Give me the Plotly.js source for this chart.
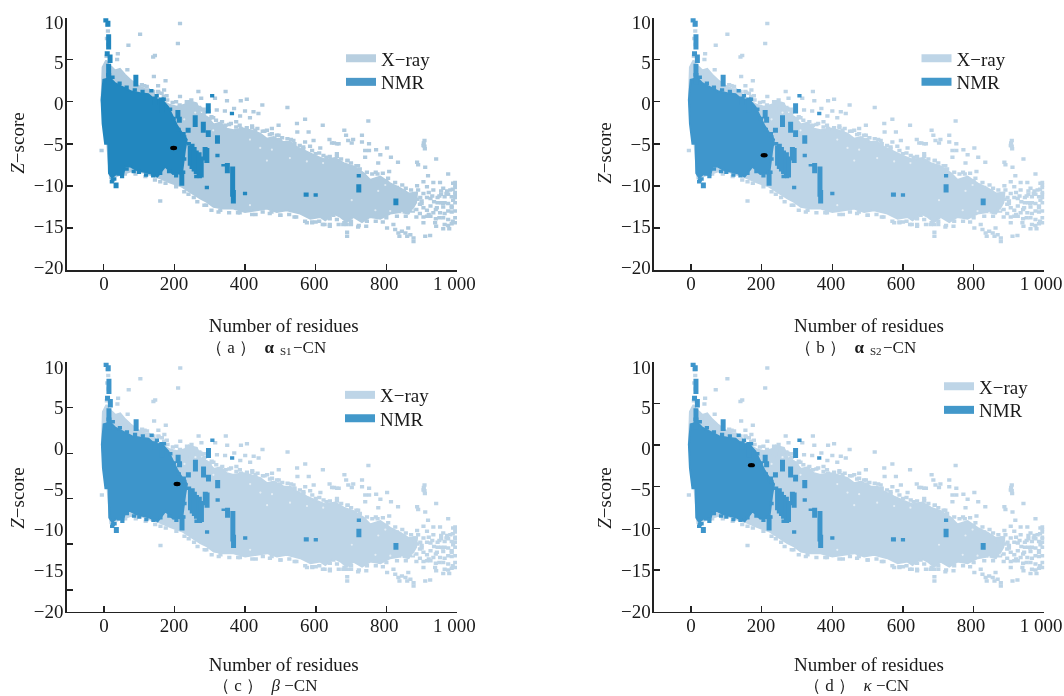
<!DOCTYPE html>
<html>
<head>
<meta charset="utf-8">
<script src="https://cdn.plot.ly/plotly-3.0.1.min.js"></script>
<style>html,body{margin:0;padding:0;background:#fff}#chart{width:1064px;height:696px;filter:blur(0.35px)}</style>
</head>
<body>
<div id="chart"></div>
<script>
// ---------- values ----------
var xTicks = [0, 200, 400, 600, 800, 1000];
var xTickText = ['0', '200', '400', '600', '800', '1 000'];
var zLabelVals = [10, 5, 0, -5, -10, -15, -20];
var zLabelText = ['10', '5', '0', '−5', '−10', '−15', '−20'];
var xTitle = 'Number of residues';
var zTitle = '<i>Z</i>−score';

// X-ray dense cloud: outline
var xrayBodyX = [-6,-3,7,14,23,32,46,60,75,93,112,131,150,169,188,207,226,245,263,273,292,311,330,348,367,396,415,443,462,481,509,528,547,575,603,627,655,679,707,736,754,783,811,840,863,887,884,877,863,840,811,783,754,731,707,688,670,651,627,613,585,556,518,490,462,433,400,367,339,311,292,273,249,221,188,160,131,103,75,46,18,10,-6];
var xrayBodyY = [0.2,4.1,4.9,4.4,4.1,3.7,3.9,3.2,2.6,2.0,1.6,1.2,0.6,0,-0.4,-0.6,-0.4,0,-0.2,-1.4,-1.8,-2.7,-2.5,-3.2,-3.4,-3.2,-3.4,-3.8,-4.4,-4.2,-4.8,-4.8,-5.4,-6,-6.5,-6.9,-6.7,-7.3,-7.7,-8.5,-9.3,-8.9,-9.7,-10.3,-10.9,-10.8,-12,-12.5,-13.3,-13.1,-13.3,-13.9,-13.7,-14.3,-13.7,-14.3,-13.7,-13.3,-14.1,-13.7,-13.9,-13.3,-12.9,-13.1,-12.7,-12.9,-13.1,-12.7,-12.7,-12.5,-11.9,-11.5,-10.9,-10.1,-9.6,-9.1,-8.7,-8.3,-8.3,-8.7,-9.1,-5,0.2];
// X-ray loose points
var xrayPtsX = [216,103,70,210,40,145,140,38,67,142,175,154,122,108,171,140,154,268,216,276,315,244,178,164,225,273,320,345,405,349,388,449,520,369,343,400,424,438,570,386,414,375,495,547,620,580,548,476,462,476,429,388,499,537,570,594,639,652,665,584,613,749,681,686,731,692,706,702,731,646,660,751,751,740,771,802,783,813,740,908,908,905,906,909,941,887,890,910,833,777,808,975,918,905,933,952,989,887,890,915,933,961,981,995,995,995,995,995,896,915,925,961,943,933,989,952,975,995,995,961,938,941,961,978,910,924,802,820,825,834,844,862,868,877,877,837,854,859,688,689,689,681,743,650,160,-6,590,625,640,575,10,12,9,13,8,11,233,252,262,283,297,310,250,270,283,305,360,420,455,495,530,565,600,630,660,690,720,775,800,830,850,870,880,665,700,720,640,610,590,540,500,470,430,380,330,290,255,870,885,900,920,940,960,985,880,900,950,970,
880,888,895,905,885,895,905,915,925,935,945,955,965,975,985,975,985,965,955,945,925,915,905,965,985,975,985,975,965,995,995,988,972,955,920,905,930,940,950,988,995,
30,45,58,72,85,100,115,125,140,155,170,180,195,205,215,235,248,255,240,262,278,285,300,318,335,345,355,375,385,405,420,435,450,470,490,505,520,540,555,565,590,610,622,640,660,672,690,700,715,725,745,760,770,790,805,825,845,855,870,
875,855,830,800,790,770,745,722,700,678,660,640,620,600,570,545,525,500,475,450,420,385,355,325,305,285,265,240,228,205,175,145,118,90,60,160];
var xrayPtsY = [9.3,8,6.7,6.9,5.7,5.5,5.3,5,3.8,3,2.5,1.9,1.8,2,1.4,1.2,1.2,1.2,0.6,0.4,0.4,0,0.7,1,-0.6,-0.8,-1,1.2,0.3,0.1,0.1,-0.4,-0.7,-0.8,-1.1,-1.1,-1.2,-1.4,-2.1,-1.7,-1.9,-2.4,-2.8,-2.6,-2.8,-3.6,-3.6,-3.2,-3.4,-3.8,-3.4,-3.2,-4.5,-4.6,-4.8,-4.6,-4.5,-4.9,-5,-5.3,-5.5,-2.3,-3.4,-4,-4,-4.6,-4.5,-4.9,-4.8,-4.9,-5,-5,-5.8,-5.8,-5.7,-5.5,-6.3,-6.6,-6.6,-4.6,-5.3,-5.2,-4.9,-5.6,-6.8,-7.2,-7.5,-7.8,-7.2,-7.3,-8.3,-8.6,-8.8,-9.5,-9.6,-9.6,-9.7,-10,-10.5,-10.1,-10.5,-10.3,-10.5,-9.6,-10.2,-10.8,-11.4,-12,-11.4,-11.4,-11.5,-12.5,-12.6,-13.2,-11.7,-13.2,-14,-13.8,-14.4,-13.8,-14.4,-14.8,-15.1,-15.1,-16,-15.9,-15,-14.6,-15.2,-15.6,-15.4,-15,-15.8,-16.2,-16.6,-16,-15.6,-16,-14.6,-15.5,-16,-14.4,-14.8,-13.5,-11.8,-5.8,-14.3,-14.6,-14.8,-14.4,9.1,8.4,7.5,6.8,5.4,3.6,-1.2,-0.9,-1.4,-1.5,-1.1,-1.9,-0.9,-0.7,-0.9,-1.8,-2.6,-3.1,-3.5,-4,-4.5,-5.4,-6.2,-6.6,-6.5,-7,-7.6,-8.6,-9.4,-10.2,-10.7,-11.4,-10.9,-14.6,-14.6,-14.9,-13.9,-14.2,-14.4,-13.7,-13.5,-13.3,-13.4,-13.2,-12.9,-12.3,-11.4,-12.9,-13.7,-12.1,-13.4,-12.8,-12.1,-12.6,-11.1,-11.8,-11.2,-10.9,
-11,-11.6,-12.2,-12.6,-12.8,-13.3,-13.7,-12.9,-12.4,-11.9,-11.4,-11,-11.3,-11,-11.3,-12.1,-12.4,-12,-12,-12,-13.6,-13.6,-14.4,-13.3,-13.1,-13,-14.5,-14.7,-14.6,-11,-9.9,-10.4,-10.6,-10.6,-10.8,-10.9,-11.2,-13.9,-13.8,-14.2,-13,
3.3,3.1,2.9,2.4,2.2,1.5,1.9,1.4,0.9,1.1,0.6,0.2,-0.1,0,-0.4,0,0.2,-0.5,-0.9,-0.6,-1,-1.3,-2,-2.2,-2.4,-2.8,-2.7,-3,-2.8,-3.1,-2.9,-3.2,-3.5,-3.9,-4,-4.3,-4.4,-5,-5.2,-5.6,-5.8,-6.1,-6.4,-6.5,-6.2,-6.8,-7,-7.3,-7.6,-8,-8.4,-8.6,-8.4,-8.5,-9.1,-9.6,-9.9,-10.3,-10.5,
-13,-13.6,-13.6,-13.8,-14.3,-14.2,-14.2,-14.7,-14.2,-14.6,-14,-14.6,-14.6,-14.3,-14.2,-13.7,-13.4,-13.5,-13.1,-13.1,-13.4,-13.2,-13.2,-13.1,-12.9,-12.3,-11.9,-11,-10.7,-10.1,-9.7,-9.3,-8.9,-8.6,-8.6,-9.5];
// small gaps inside the X-ray cloud
var xrayGapX = [228,259,414,443,476,527,575,621,462,414,797,777,769,844,811,875,702,285,310];
var xrayGapY = [-2.1,-1.3,-4.5,-5.5,-5.7,-6.7,-7.1,-7.3,-7,-12.3,-9.9,-10.6,-12.9,-13.2,-13,-12.9,-11.7,-2.6,-3.4];

// NMR dense cloud: outline
var nmrBodyX = [-6,-1,18,32,55,79,103,126,145,163,182,193,207,222,235,230,224,221,213,196,174,152,131,111,92,75,60,55,38,23,15,13,4,-3,-6];
var nmrBodyY = [0.2,2.6,2.8,2.2,1.7,1.2,1,0.9,0.2,0.3,-0.6,-1.6,-2.8,-3.8,-4.5,-5.7,-8,-8.7,-8.5,-8.6,-7.7,-8.9,-8.5,-8.3,-8.1,-7.7,-7.7,-8.7,-8.5,-9,-8.5,-5,-5,-2.6,0.2];
// NMR strips: x, top, bottom
var nmrStripX = [6,12,14,10,18,14,14,91,164,214,259,282,296,239,225,296,322,287,292,250,262,270,340,350,365,367,573,722,827,35,145,210,221,245,256,276];
var nmrStripTop = [9.9,9.6,8,6,5.6,4.5,3.4,3.2,0.5,-1.8,-1.6,-2.4,-3.4,-3.1,-3.6,-0.2,-4,-5.4,-5.5,-5,-5.8,-6,-7.4,-7.3,-7.7,-10.5,-10.8,-9.8,-11.5,-9.6,0.6,-1,-8.2,-5.2,-5.4,-6.5];
var nmrStripBot = [9.4,8.9,6.2,5.4,4.6,3,2,1.8,-1.3,-2.5,-3,-3.7,-4.2,-3.7,-4.3,-1.4,-5,-7,-7.3,-8,-8.6,-9,-7.7,-8.5,-11.3,-12.1,-11.3,-10.8,-12.3,-10.3,-0.4,-2,-10,-7.6,-8.3,-9];
// NMR lone points
var nmrPtsX = [307,363,322,400,600,722,292,23,241,262,272,25,45,65,88,110,135,150,170,188,198,212,228,30,25,42,52,65,85,100,120,140,160,185,205,228,225];
var nmrPtsY = [0.7,-1.4,-6.4,-10.9,-11.1,-8.8,-10.2,-9.5,-5,-8.9,-8.9,2.9,2.2,1.7,1.4,1.2,1.3,0.7,0.3,-0.9,-2,-3.3,-4.2,-9.2,-9.3,-8.6,-8.9,-8,-8.3,-8.4,-8.7,-8.8,-8.5,-8.3,-8.8,-6.8,-8.4];

// the black mark of each panel
var markX = [198, 207, 207, 171];
var markY = [-5.5, -6.37, -4.49, -2.25];
var captions = ['（ a ）  <b>α</b>', '（ b ）  <b>α</b>', '（ c ）  <i>β</i> −CN', '（ d ）  <i>κ</i> −CN'];
var subCaptions = ['S1', 'S2', '', ''];
var tailCaptions = ['−CN', '−CN', '', ''];
var tickMarks = [
  [10,5,0,-5,-10,-15,-20],
  [10,5,0,-5,-10,-15,-20],
  [10,4.62,-0.84,-6.23,-11.6,-17.1],
  [10,5.1,0.14,-4.8,-9.75,-14.7]
];
var xrayColors = ['#b0cbdf','#bed5e7','#bed5e7','#bed5e7'];
var nmrColors = ['#2287bf','#3f96cc','#3d95cb','#3d95cb'];
var swatchX = ['#b8cfe0','#bed5e7','#bed5e7','#bed5e7'];
var swatchN = ['#4b98c8','#4298ca','#4298ca','#4298ca'];
// layout, in page pixels
var W = 1064, H = 696;
var boxes = [
  {l:66.5,r:457,t:17.5,b:270,low:-20,zero:103.7,lT:10,lB:276,lTop:11.47,lBot:-21.1,tl:98,tr:469.4,tLow:-17,tHigh:1043,so:25,leg:[341,39.5],cap:[276,347],anchor:'right',sub:[285.5,351],tail:[292,347]},
  {l:653.7,r:1044.3,t:17.5,b:270,low:-20,zero:691,lT:10,lB:296,lTop:11.47,lBot:-23.55,tl:685,tr:1053,tLow:-17,tHigh:1034,so:25,leg:[916.5,39.5],cap:[866,347],anchor:'right',sub:[876,351],tail:[881.5,347]},
  {l:66.5,r:457,t:362,b:611.7,low:-19.65,zero:104,lT:356,lB:640,lTop:11.35,lBot:-23.57,tl:98,tr:469.4,tLow:-17,tHigh:1043,so:22,leg:[340,376],cap:[265,685.5],anchor:'center'},
  {l:653.7,r:1044.3,t:362,b:611.7,low:-19.65,zero:691,lT:356,lB:640,lTop:11.35,lBot:-23.57,tl:685,tr:1053,tLow:-17,tHigh:1034,so:22,leg:[939,367.5],cap:[856,685.5],anchor:'center'}
];
var rowGap = 23.5;
var serif = '"Liberation Serif", serif';
var ink = '#1a1a1a';

function px(v){return v/W;}
function py(v){return 1-v/H;}

var data = [], layout = {
  width:W, height:H, margin:{l:0,r:0,t:0,b:0,pad:0}, paper_bgcolor:'#fff', plot_bgcolor:'rgba(0,0,0,0)',
  font:{family:serif,size:19,color:ink}, shapes:[], annotations:[]
};
var stripX=[], stripY=[];
nmrStripX.forEach(function(v,k){stripX.push(v,v,null);stripY.push(nmrStripTop[k],nmrStripBot[k],null);});

boxes.forEach(function(b,i){
  var n = i*2;
  var xA = 'x'+(n+1), yA = 'y'+(n+1), xL = 'x'+(n+2), yL = 'y'+(n+2);
  var lgA = 'legend'+(n+1 === 1 ? '' : n+1), lgB = 'legend'+(n+2);
  function ax(s){return s.replace(/^x/,'xaxis').replace(/^y/,'yaxis');}
  var oval = function(c){return {symbol:'line-ew',size:3,color:c,line:{width:3.5,color:c}};};
  data.push({type:'scatter',mode:'lines',showlegend:false,x:xrayBodyX,y:xrayBodyY,xaxis:xA,yaxis:yA,fill:'toself',fillcolor:xrayColors[i],line:{color:xrayColors[i],width:2},hoverinfo:'skip'});
  data.push({type:'scatter',mode:'markers',showlegend:false,x:xrayPtsX,y:xrayPtsY,xaxis:xA,yaxis:yA,marker:oval(xrayColors[i]),hoverinfo:'skip'});
  data.push({type:'scatter',mode:'markers',showlegend:false,x:xrayGapX,y:xrayGapY,xaxis:xA,yaxis:yA,marker:{color:'rgba(255,255,255,0.6)',size:2.2,line:{width:0}},hoverinfo:'skip'});
  data.push({type:'scatter',mode:'lines',showlegend:false,x:nmrBodyX,y:nmrBodyY,xaxis:xA,yaxis:yA,fill:'toself',fillcolor:nmrColors[i],line:{color:nmrColors[i],width:2},hoverinfo:'skip'});
  data.push({type:'scatter',mode:'lines',showlegend:false,x:stripX,y:stripY,xaxis:xA,yaxis:yA,line:{color:nmrColors[i],width:5},hoverinfo:'skip'});
  data.push({type:'scatter',mode:'markers',showlegend:false,x:nmrPtsX,y:nmrPtsY,xaxis:xA,yaxis:yA,marker:oval(nmrColors[i]),hoverinfo:'skip'});
  // legend keys
  data.push({type:'scatter',mode:'lines',name:'X−ray',legend:lgA,x:[null],y:[null],xaxis:xA,yaxis:yA,line:{color:swatchX[i],width:8},hoverinfo:'skip'});
  data.push({type:'scatter',mode:'lines',name:'NMR',legend:lgB,x:[null],y:[null],xaxis:xA,yaxis:yA,line:{color:swatchN[i],width:8},hoverinfo:'skip'});
  // carrier of the printed tick labels and titles
  data.push({type:'scatter',mode:'markers',showlegend:false,x:[],y:[],xaxis:xL,yaxis:yL,hoverinfo:'skip'});

  var scaleLow = (b.l-b.zero)/((b.r-b.zero)/1000);
  layout[ax(xA)] = {domain:[px(b.l),px(b.r)],range:[scaleLow,1000],anchor:yA,tickmode:'array',tickvals:xTicks,showticklabels:false,ticks:'inside',ticklen:6,tickwidth:1.5,tickcolor:'#222',showline:true,linecolor:'#222',linewidth:1.5,showgrid:false,zeroline:false};
  layout[ax(yA)] = {domain:[py(b.b),py(b.t)],range:[b.low,10],anchor:xA,tickmode:'array',tickvals:tickMarks[i],showticklabels:false,ticks:'inside',ticklen:6,tickwidth:1.5,tickcolor:'#222',showline:true,linecolor:'#222',linewidth:1.5,showgrid:false,zeroline:false};
  layout[ax(xL)] = {domain:[px(b.tl),px(b.tr)],range:[b.tLow,b.tHigh],anchor:yA,tickmode:'array',tickvals:xTicks,ticktext:xTickText,ticks:'',ticklabelstandoff:0,tickfont:{family:serif,size:19,color:ink},showline:false,showgrid:false,zeroline:false,title:{text:xTitle,standoff:b.so,font:{family:serif,size:19,color:ink}}};
  layout[ax(yL)] = {domain:[py(b.lB),py(b.lT)],range:[b.lBot,b.lTop],anchor:xA,tickmode:'array',tickvals:zLabelVals,ticktext:zLabelText,ticks:'',ticklabelstandoff:2,showline:false,showgrid:false,zeroline:false,tickfont:{family:serif,size:19,color:ink},title:{text:zTitle,standoff:4,font:{family:serif,size:19,color:ink}}};
  var legendBase = {xanchor:'left',yanchor:'top',bgcolor:'rgba(0,0,0,0)',borderwidth:0,font:{family:serif,size:19,color:ink},itemwidth:30};
  layout[lgA] = Object.assign({x:px(b.leg[0]),y:py(b.leg[1])},legendBase);
  layout[lgB] = Object.assign({x:px(b.leg[0]),y:py(b.leg[1]+rowGap)},legendBase);
  layout.shapes.push({type:'circle',xref:xA,yref:yA,xsizemode:'pixel',ysizemode:'pixel',xanchor:markX[i],yanchor:markY[i],x0:-3.5,x1:3.5,y0:-2.2,y1:2.2,fillcolor:'#000',line:{width:0},layer:'above'});
  layout.annotations.push({xref:'paper',yref:'paper',x:px(b.cap[0]),y:py(b.cap[1]),text:captions[i],showarrow:false,xanchor:b.anchor,yanchor:'middle',borderpad:0,font:{family:serif,size:17,color:ink}});
  if(subCaptions[i]){
    layout.annotations.push({xref:'paper',yref:'paper',x:px(b.sub[0]),y:py(b.sub[1]),text:subCaptions[i],showarrow:false,xanchor:'center',yanchor:'middle',borderpad:0,font:{family:serif,size:11,color:ink}});
    layout.annotations.push({xref:'paper',yref:'paper',x:px(b.tail[0]),y:py(b.tail[1]),text:tailCaptions[i],showarrow:false,xanchor:'left',yanchor:'middle',borderpad:0,font:{family:serif,size:17,color:ink}});
  }
});
Plotly.newPlot('chart',data,layout,{displayModeBar:false,staticPlot:true});
</script>
</body>
</html>
